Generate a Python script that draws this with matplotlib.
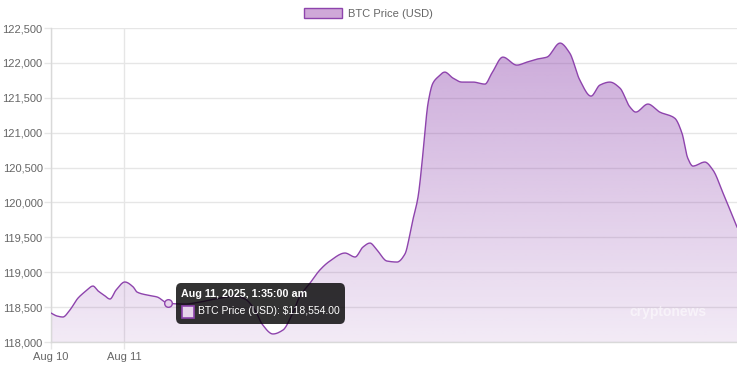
import numpy as np
import matplotlib
matplotlib.use("Agg")
import matplotlib.pyplot as plt
from matplotlib.patches import Patch, Rectangle
from matplotlib.offsetbox import TextArea, DrawingArea, HPacker, VPacker, AnnotationBbox

plt.rcParams['font.family'] = ['Liberation Sans', 'DejaVu Sans']

# hours since Aug 10, 00:00 (as laid out on the chart) and BTC price
hours = [0.0, 2.0, 3.9, 6.2, 8.9, 11.5, 13.8, 15.5, 17.4, 19.4, 21.4, 24.3,
         27.0, 28.3, 31.6, 34.9, 38.5, 44.1, 49.0, 55.6, 60.5, 63.8,
         67.1, 69.4, 73.0, 76.3, 79.2, 81.9, 85.2, 88.4, 91.7, 96.7, 100.0,
         102.6, 104.9, 107.2, 110.5, 113.8, 116.4, 118.0, 119.0, 120.7, 122.0,
         123.0, 124.0, 125.6, 127.2, 129.5, 132.2, 135.1, 138.8, 142.7, 145.0,
         148.6, 153.2, 156.5, 159.8, 163.1, 167.4, 170.6, 173.9, 177.6, 180.5,
         183.8, 187.1, 190.4, 192.3, 196.3, 200.2, 205.1, 207.5, 209.4, 211.1,
         215.0, 217.7, 221.0, 225.6]
price = [118415, 118372, 118358, 118458, 118630, 118731, 118802, 118731,
         118673, 118616, 118745, 118860, 118790, 118716, 118673, 118645,
         118554, 118544, 118573, 118630, 118659, 118616, 118458,
         118258, 118115, 118172, 118387, 118659, 118845, 119031, 119160,
         119275, 119218, 119361, 119418, 119318, 119160, 119146, 119261,
         119533, 119748, 120077, 120564, 121037, 121424, 121710, 121796,
         121868, 121782, 121725, 121725, 121696, 121854, 122083, 121968,
         122011, 122054, 122083, 122284, 122140, 121754, 121524, 121682,
         121725, 121639, 121367, 121295, 121410, 121295, 121209, 120994,
         120636, 120521, 120579, 120464, 120135, 119648]

tick_hours = [0, 24]
tick_labels = ['Aug 10', 'Aug 11']
y_ticks = [118000, 118500, 119000, 119500, 120000, 120500, 121000, 121500, 122000, 122500]

hover_index = 16
hover_title = 'Aug 11, 2025, 1:35:00 am'
hover_body = 'BTC Price (USD): $118,554.00'

purple = '#8e44ad'
fill_light = '#cfa8d8'


def monotone(x, y, n=12):
    # monotone cubic curve through the points, like the smoothed line of the original
    x = np.asarray(x, float)
    y = np.asarray(y, float)
    h = np.diff(x)
    d = np.diff(y) / h
    m = np.zeros_like(y)
    m[0], m[-1] = d[0], d[-1]
    for k in range(1, len(x) - 1):
        if d[k - 1] * d[k] > 0:
            w1 = 2 * h[k] + h[k - 1]
            w2 = h[k] + 2 * h[k - 1]
            m[k] = (w1 + w2) / (w1 / d[k - 1] + w2 / d[k])
    xs, ys = [], []
    for k in range(len(x) - 1):
        t = np.linspace(0, 1, n, endpoint=False)
        h00 = 2 * t**3 - 3 * t**2 + 1
        h10 = t**3 - 2 * t**2 + t
        h01 = -2 * t**3 + 3 * t**2
        h11 = t**3 - t**2
        xs.append(x[k] + t * h[k])
        ys.append(h00 * y[k] + h10 * h[k] * m[k] + h01 * y[k + 1] + h11 * h[k] * m[k + 1])
    xs.append([x[-1]])
    ys.append([y[-1]])
    return np.concatenate(xs), np.concatenate(ys)


fig = plt.figure(figsize=(7.37, 3.68), dpi=100)
ax = fig.add_axes([51 / 737, 1 - 342 / 368, 686 / 737, 314 / 368])

ymin, ymax = 118000, 122500
xs, ys = monotone(hours, price)

# gradient area fill
poly = ax.fill_between(xs, ys, ymin, facecolor='none', edgecolor='none')
grad = np.zeros((256, 1, 4))
grad[:, 0, :3] = matplotlib.colors.to_rgb(purple)
grad[:, 0, 3] = np.linspace(0.47, 0.11, 256)
im = ax.imshow(grad, extent=[hours[0], hours[-1], ymin, ymax], origin='upper',
               aspect='auto', zorder=1, interpolation='bilinear')
im.set_clip_path(poly.get_paths()[0], transform=ax.transData)

ax.plot(xs, ys, color=purple, linewidth=1.0, zorder=3)

ax.set_xlim(hours[0], hours[-1])
ax.set_ylim(ymin, ymax)
ax.set_yticks(y_ticks)
ax.set_yticklabels([f'{v:,}' for v in y_ticks])
ax.set_xticks(tick_hours)
ax.set_xticklabels(tick_labels)
ax.set_axisbelow(True)
ax.grid(True, color='#e6e6e6', linewidth=1.0)
for s in ['top', 'right']:
    ax.spines[s].set_visible(False)
for s in ['left', 'bottom']:
    ax.spines[s].set_color('#d9d9d9')
    ax.spines[s].set_linewidth(1.0)
ax.tick_params(axis='both', length=5, width=1.0, color='#e6e6e6',
               labelcolor='#666666', labelsize=8)
ax.tick_params(axis='y', pad=1)
ax.tick_params(axis='x', pad=2)

# hover point
ax.plot(hours[hover_index], price[hover_index], 'o', markersize=5.5,
        markerfacecolor='#e6d3ea', markeredgecolor=purple, markeredgewidth=1.0, zorder=4)

# tooltip
title = TextArea(hover_title, textprops=dict(color='white', fontsize=7.75, fontweight='bold'))
sw = DrawingArea(10, 10)
sw.add_artist(Rectangle((0.5, 0), 9, 9, facecolor='#e6d3ea', edgecolor=purple, linewidth=1.2))
body = TextArea(hover_body, textprops=dict(color='white', fontsize=7.5))
row = HPacker(children=[sw, body], pad=0, sep=2, align='center')
box = VPacker(children=[title, row], pad=0, sep=4, align='left')
ab = AnnotationBbox(box, (hours[hover_index], price[hover_index]),
                    xybox=(9.5, 0), xycoords='data', boxcoords='offset points',
                    box_alignment=(0, 0.5), frameon=True, pad=0.4,
                    bboxprops=dict(boxstyle='round,pad=0.4,rounding_size=0.4',
                                   facecolor=(0, 0, 0, 0.8), edgecolor='none'),
                    zorder=6)
ax.add_artist(ab)

# watermark
ax.text(0.955, 0.095, 'cryptonews', transform=ax.transAxes, ha='right', va='center',
        fontsize=10, fontweight='bold', color='white', alpha=0.55, zorder=5)

fig.legend(handles=[Patch(facecolor=fill_light, edgecolor=purple, linewidth=1.0,
                          label='BTC Price (USD)')],
           loc='upper center', bbox_to_anchor=(0.5, 1.0), frameon=False,
           fontsize=8, labelcolor='#666666', handlelength=3.4, handleheight=1.0,
           handletextpad=0.5, borderaxespad=0.35)

fig.savefig('out.png', dpi=100)
